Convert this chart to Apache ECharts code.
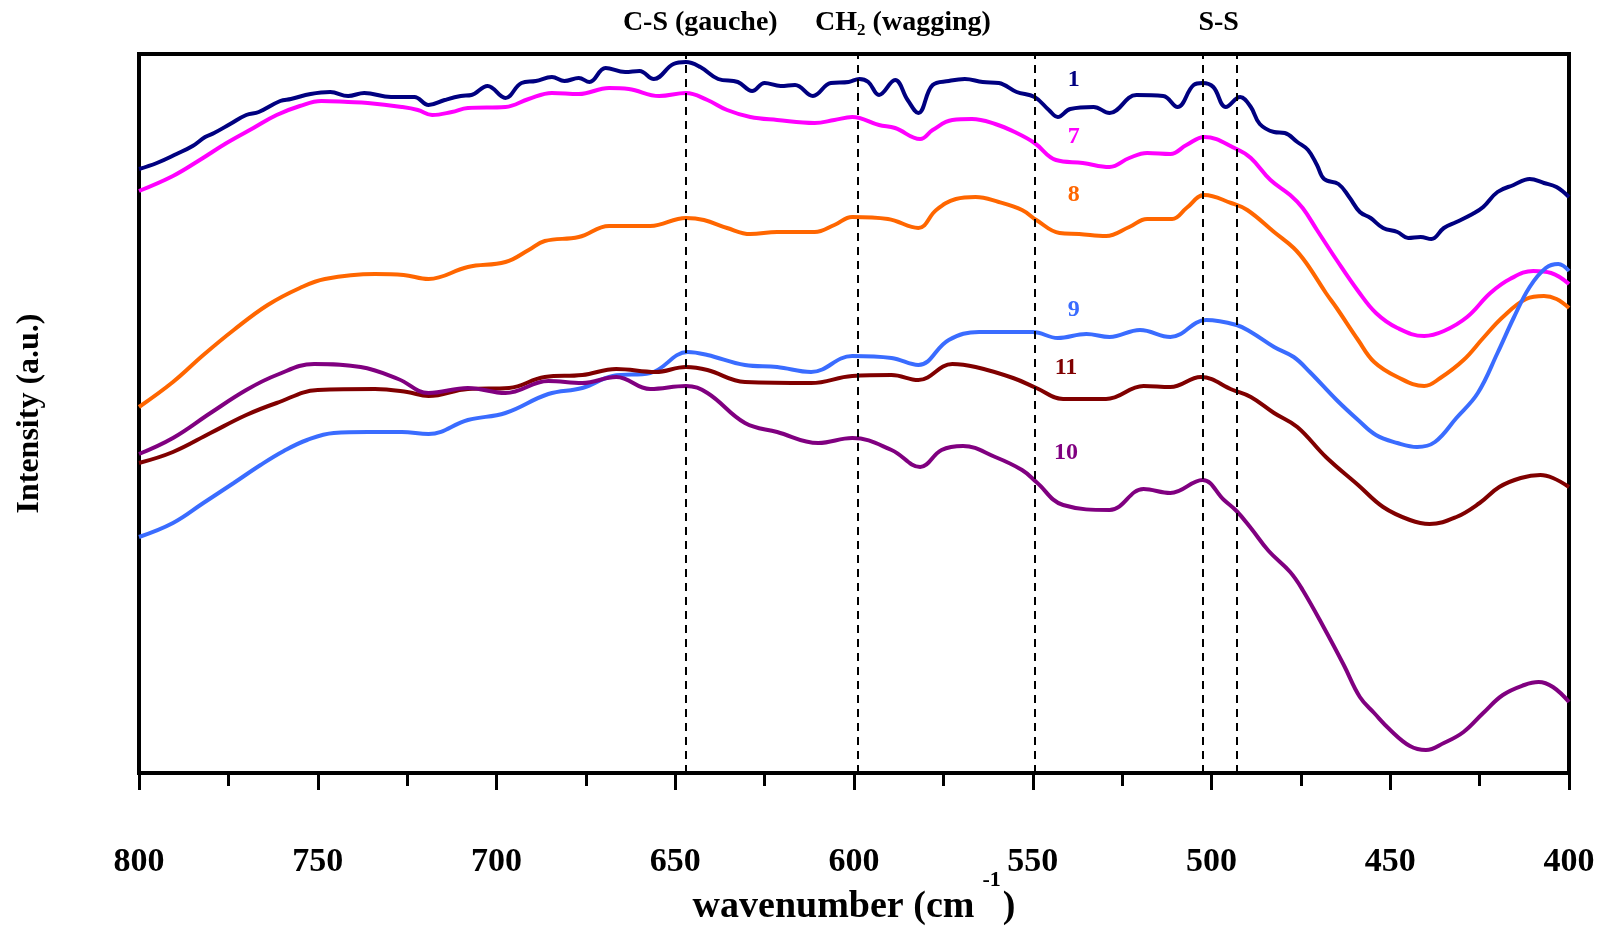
<!DOCTYPE html>
<html>
<head>
<meta charset="utf-8">
<title>Raman spectra 800-400 cm-1</title>
<script src="https://cdn.jsdelivr.net/npm/echarts@6/dist/echarts.min.js"></script>
<style>
  html, body { margin: 0; padding: 0; background: #fff; }
  #chart { width: 1607px; height: 928px; }
</style>
</head>
<body>
<div id="chart"></div>
<script>
var serif = "'Liberation Serif', 'Times New Roman', serif"

// spectra: [wavenumber (cm-1), intensity (a.u.)]
var spectrum1 = [[800,604],[795,610],[789.5,619],[785,627],[781.5,636],[779,640],[774.5,649],[770,658],[766.5,661],[760.5,672],[757.5,674],[752,679],[746.5,681],[741.5,677],[737,680],[729.5,676],[723,676],[719,668],[714.5,673],[710,677],[707,678],[702.5,687],[697.5,675],[693,690],[689,692],[684.5,696],[681,692],[677,695],[674,691],[669.5,705],[664,701],[660,702],[656,694],[650.5,709],[647,711],[643,706],[638,694],[632.5,691],[628.5,682],[625,690],[620.5,687],[616.5,688],[611.5,677],[606.5,690],[601.5,691],[598.5,694],[596,691],[593,678],[588.5,693],[585,673],[582,660],[578,688],[573.5,692],[569,694],[564,691],[559.5,690],[554.5,681],[549.5,676],[545.5,663],[543,656],[539.5,664],[533,666],[528.5,660],[521,678],[513.5,677],[509.5,666],[505,688],[502.5,690],[499.5,686],[496,666],[492,676],[489,666],[486.5,649],[482.5,641],[479.5,640],[476,631],[473,623],[470.5,608],[468.5,594],[464.5,589],[461.5,576],[458.5,561],[455.5,555],[452,545],[448,541],[445,535],[441.5,536],[438.5,534],[435,545],[431.5,551],[427,559],[424,566],[420,581],[415.5,588],[411,594],[407,590],[403.5,586],[400,576]]
var spectrum7 = [[800,582],[790.5,597],[783,613],[775.5,630],[768,645],[761.5,658],[755,667],[749,672],[741.5,671],[736,670],[726.5,666],[722,663],[718,658],[712.5,661],[708,665],[697.5,666],[691,674],[684.5,680],[677,679],[668.5,685],[663,684],[654.5,677],[647,680],[641,673],[635.5,663],[629,656],[621.5,653],[611,650],[605.5,653],[600.5,656],[593,648],[588.5,645],[581.5,634],[578,643],[572.5,653],[567,654],[560.5,649],[554.5,640],[549.5,630],[543.5,613],[536,610],[528.5,606],[523,615],[518,620],[511.5,619],[507,628],[502,636],[493,624],[489,615],[483.5,593],[478,578],[474.5,565],[470.5,543],[465,513],[459,482],[454,460],[448,445],[440.5,437],[435,442],[428.5,456],[422,480],[416.5,494],[410,502],[405,500],[400,489]]
var spectrum8 = [[800,366],[790.5,391],[782,418],[773.5,443],[764,468],[755,485],[748,494],[734,499],[726,498],[719,494],[708,506],[697.5,511],[691,523],[686.5,532],[677,536],[668.5,547],[657,547],[647,555],[642,553],[635.5,545],[629,539],[621.5,541],[611,541],[605.5,548],[600.5,556],[590.5,554],[582,545],[577,563],[571.5,574],[566,576],[559.5,571],[553,563],[549,553],[542.5,540],[537,539],[529.5,537],[523,546],[518,554],[511,554],[507,565],[502,578],[494.5,570],[490,563],[482.5,541],[477,525],[473.5,510],[468,480],[465,465],[459,433],[454.5,411],[448,396],[440.5,387],[436,395],[429.5,413],[424,435],[418.5,456],[412,474],[407,477],[403.5,474],[400,465]]
var spectrum9 = [[800,236],[790.5,250],[782,270],[773.5,290],[766,308],[759.5,322],[753,333],[745.5,340],[736,341],[726.5,341],[719,339],[708,353],[697.5,360],[685.5,379],[676,385],[667.5,397],[657,400],[646.5,421],[641,418],[630.5,408],[621.5,406],[612,401],[600.5,417],[589.5,415],[582,408],[573.5,433],[565,441],[550,441],[543,435],[535,439],[528.5,436],[520,443],[511.5,436],[501.5,453],[493,448],[489,441],[482.5,426],[477,416],[472.5,401],[465,373],[459,353],[454,338],[448,330],[442.5,326],[437.5,331],[431.5,355],[425.5,380],[420,420],[415.5,455],[411,486],[406.5,505],[403,509],[400,502]]
var spectrum11 = [[800,310],[790.5,321],[780,340],[770,358],[761.5,370],[750,383],[734,384],[725,381],[719,377],[708,384],[696.5,385],[686.5,396],[676,398],[666.5,404],[655.5,401],[647,406],[641,403],[630.5,391],[612,390],[600.5,397],[589.5,398],[582,393],[572.5,409],[566,406],[555.5,395],[549,385],[541.5,374],[529.5,374],[519,387],[511.5,386],[503,396],[494,383],[489,376],[482.5,360],[476,346],[468,316],[459,288],[452,266],[444.5,253],[439,249],[431.5,256],[425,270],[419.5,286],[413.5,295],[408,298],[404.5,295],[400,286]]
var spectrum10 = [[800,319],[790.5,335],[780,360],[770,383],[761.5,398],[751,409],[738,406],[727.5,394],[719,380],[708,385],[697.5,380],[685.5,392],[676,390],[666.5,396],[657,384],[647,387],[641,380],[630.5,350],[621.5,341],[610,330],[600.5,335],[589.5,323],[581.5,306],[575.5,323],[569.5,327],[560.5,316],[553,303],[549,291],[541.5,268],[528.5,263],[519,284],[511.5,280],[502.5,293],[496.5,273],[493,262],[489,245],[484,222],[478,201],[474.5,183],[468.5,145],[463,108],[458.5,76],[454.5,60],[450,43],[444.5,27],[440,23],[435,30],[429.5,41],[424,60],[418.5,78],[412.5,88],[408.5,91],[404.5,86],[400,71]]

// band positions marked with dashed lines
var bandLines = [647, 599, 549.5, 502.5, 493]

// curve labels [wavenumber, intensity]
var curveLabelAt = {
  '1': [538.5, 693],
  '7': [538.5, 636],
  '8': [538.5, 578],
  '9': [538.5, 463],
  '11': [540.7, 405],
  '10': [540.7, 320]
}

// band names above the frame [wavenumber, intensity]
var bandNotes = [
  { text: '{b|C-S (gauche)}', at: [643, 750] },
  { text: '{b|CH}{s|2}{b| (wagging)}', at: [586.3, 750] },
  { text: '{b|S-S}', at: [498, 750] }
]

var curves = [
  { name: '1', data: spectrum1, color: '#000080' },
  { name: '7', data: spectrum7, color: '#ff00ff' },
  { name: '8', data: spectrum8, color: '#ff6600' },
  { name: '9', data: spectrum9, color: '#3a6cff' },
  { name: '11', data: spectrum11, color: '#800000' },
  { name: '10', data: spectrum10, color: '#800080' }
]

var chart = echarts.init(document.getElementById('chart'))

var series = curves.map(function(c) {
  return {
    name: c.name,
    type: 'line',
    data: c.data,
    smooth: 0.4,
    showSymbol: false,
    symbol: 'none',
    lineStyle: { color: c.color, width: 4 },
    itemStyle: { color: c.color },
    markPoint: {
      symbol: 'circle',
      symbolSize: 0,
      data: [{ coord: curveLabelAt[c.name], value: c.name }],
      label: {
        show: true,
        position: 'inside',
        formatter: c.name,
        color: c.color,
        fontSize: 24,
        fontWeight: 'bold',
        fontFamily: serif
      }
    }
  }
})

series[0].markLine = {
  silent: true,
  symbol: 'none',
  label: { show: false },
  lineStyle: { color: '#000', type: [8, 6], width: 2 },
  data: bandLines.map(function(v) { return { xAxis: v } })
}

chart.setOption({
  animation: false,
  backgroundColor: '#fff',
  grid: {
    left: 139,
    right: 38,
    top: 54,
    bottom: 155,
    outerBoundsMode: 'none',
    show: true,
    borderColor: '#000',
    borderWidth: 4
  },
  xAxis: {
    type: 'value',
    inverse: true,
    min: 400,
    max: 800,
    interval: 50,
    name: '{a|wavenumber (cm}{s|-1}{a|)}',
    nameLocation: 'middle',
    nameGap: 96,
    nameMoveOverlap: false,
    nameTextStyle: {
      rich: {
        a: { fontSize: 38, fontWeight: 'bold', fontFamily: serif, color: '#000' },
        s: { fontSize: 22, fontWeight: 'bold', fontFamily: serif, color: '#000', padding: [0, 2, 54, 8] }
      }
    },
    axisLine: { lineStyle: { color: '#000', width: 4 } },
    axisTick: { show: true, length: 17, lineStyle: { color: '#000', width: 3 } },
    minorTick: { show: true, splitNumber: 2, length: 13, lineStyle: { color: '#000', width: 3 } },
    splitLine: { show: false },
    axisLabel: {
      margin: 72,
      color: '#000',
      fontSize: 34,
      fontWeight: 'bold',
      fontFamily: serif
    }
  },
  yAxis: {
    type: 'value',
    min: 0,
    max: 719,
    name: 'Intensity (a.u.)',
    nameLocation: 'middle',
    nameGap: 93,
    nameMoveOverlap: false,
    nameTextStyle: { fontSize: 32, fontWeight: 'bold', fontFamily: serif, color: '#000' },
    axisLine: { show: true, lineStyle: { color: '#000', width: 4 } },
    axisTick: { show: false },
    axisLabel: { show: false },
    splitLine: { show: false }
  },
  series: series
})

// band names, placed through the axis scales
chart.setOption({
  graphic: bandNotes.map(function(n) {
    var p = chart.convertToPixel({ xAxisIndex: 0, yAxisIndex: 0 }, n.at)
    return {
      type: 'text',
      x: p[0],
      y: p[1],
      style: {
        text: n.text,
        align: 'center',
        verticalAlign: 'middle',
        rich: {
          b: { fontSize: 28, fontWeight: 'bold', fontFamily: serif, fill: '#000' },
          s: { fontSize: 17, fontWeight: 'bold', fontFamily: serif, fill: '#000', padding: [16, 0, 0, 0] }
        }
      }
    }
  })
})
</script>
</body>
</html>
